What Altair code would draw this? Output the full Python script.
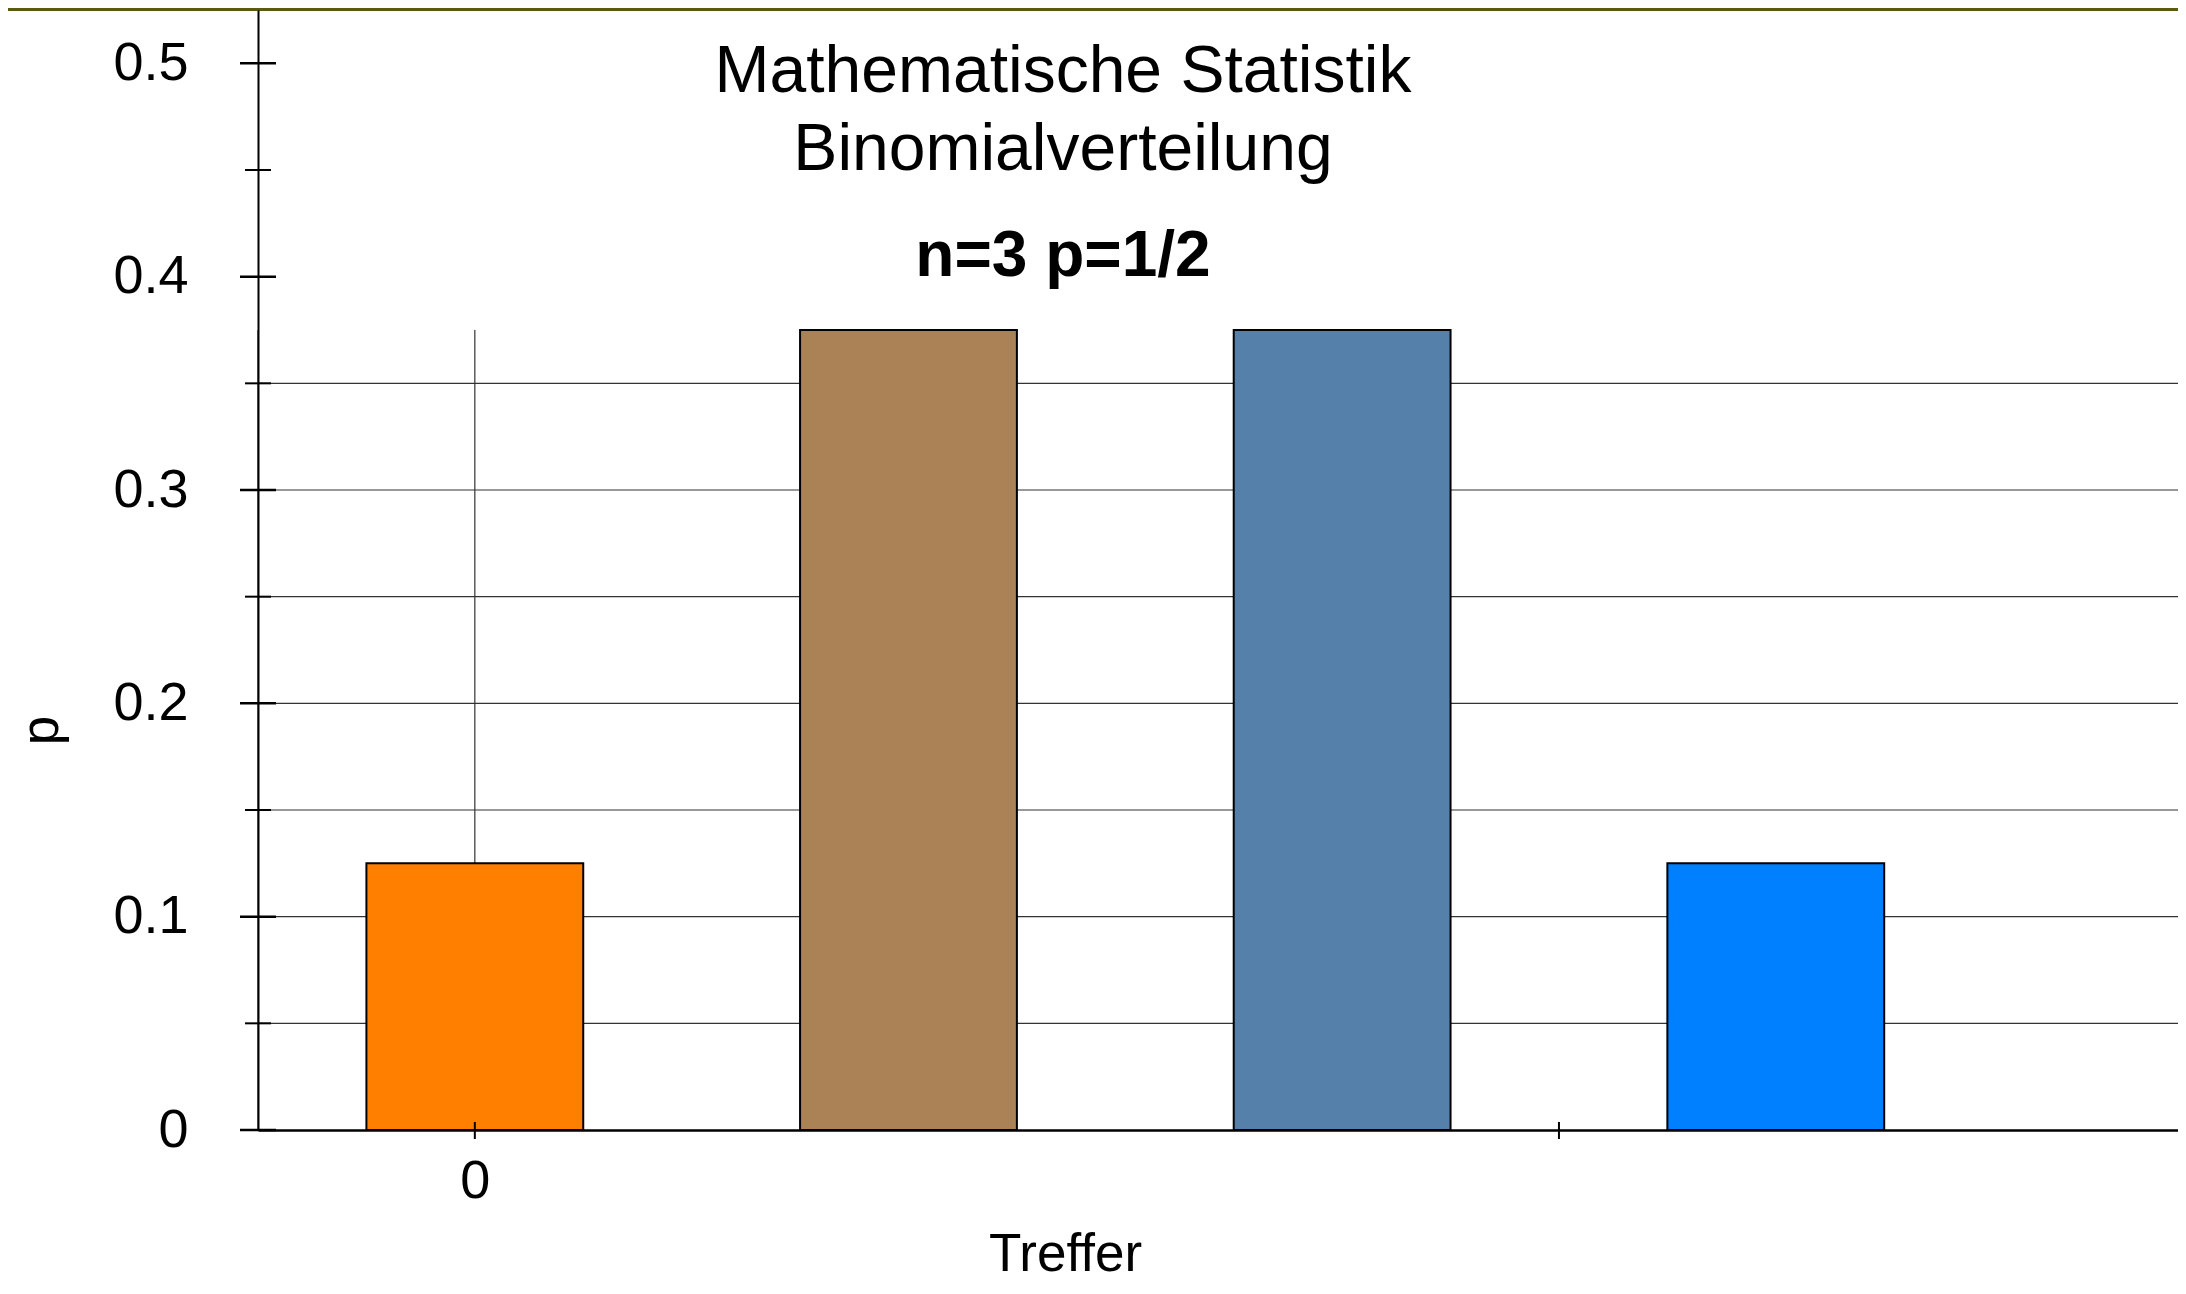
import altair as alt
import pandas as pd

# ---- data -------------------------------------------------------------
treffer = [0, 1, 2, 3]
wahrscheinlichkeit = [0.125, 0.375, 0.375, 0.125]
farben = ["#FF8000", "#AA8255", "#5580AA", "#0080FF"]
bar_halbbreite = 0.25

y_major = [0.0, 0.1, 0.2, 0.3, 0.4, 0.5]
y_minor = [0.05, 0.15, 0.25, 0.35, 0.45]
grid_y = [0.05, 0.1, 0.15, 0.2, 0.25, 0.3, 0.35]
grid_x = [-0.5, 0.0]
grid_x_top = 0.375
x_ticks = [0.0, 2.5]
x_labels = [0.0]

x_domain = [-0.5, 3.9275]
y_domain = [0.0, 0.525]

titel_zeilen = ["Mathematische Statistik", "Binomialverteilung"]
untertitel = "n=3 p=1/2"
x_titel = "Treffer"
y_titel = "p"

FONT = "Liberation Sans"
W, H = 1920, 1120

xs = alt.Scale(domain=x_domain, nice=False, zero=False)
ys = alt.Scale(domain=y_domain, nice=False, zero=True)

bars_df = pd.DataFrame({"k": treffer, "p": wahrscheinlichkeit})
bars_df["lo"] = bars_df["k"] - bar_halbbreite
bars_df["hi"] = bars_df["k"] + bar_halbbreite
bars_df["base"] = 0.0
bars_df["k"] = bars_df["k"].astype(str)

x_axis = alt.Axis(
    values=x_labels, format="~g", ticks=False, grid=False,
    domainColor="black", domainWidth=2.5, labelFont=FONT, labelFontSize=54,
    labelColor="black", labelPadding=67, labelBaseline="alphabetic",
    labelFlush=False, title=x_titel, titleFont=FONT, titleFontSize=53,
    titleFontWeight="normal", titleColor="black", titleX=807, titleY=140,
    titleBaseline="alphabetic", titleAlign="center", zindex=1,
)
y_axis = alt.Axis(
    values=y_major, format="~g", ticks=False, grid=False,
    domainColor="black", domainWidth=2, labelFont=FONT, labelFontSize=54,
    labelColor="black", labelPadding=70, labelBaseline="middle",
    labelOverlap=False, title=y_titel, titleFont=FONT, titleFontSize=53,
    titleFontWeight="normal", titleColor="black", titleAngle=270,
    titleX=-201, titleY=720, titleBaseline="alphabetic", titleAlign="center",
    zindex=1,
)

GRID = "#333333"

# horizontal grid lines
hgrid = alt.Chart(pd.DataFrame({"y": grid_y, "x0": x_domain[0], "x1": x_domain[1]})).mark_rule(
    color=GRID, strokeWidth=1.2
).encode(
    y=alt.Y("y:Q", scale=ys, axis=y_axis),
    x=alt.X("x0:Q", scale=xs, axis=x_axis),
    x2="x1:Q",
)

# vertical grid lines (only up to the highest bar)
vgrid = alt.Chart(pd.DataFrame({"x": grid_x, "y0": 0.0, "y1": grid_x_top})).mark_rule(
    color=GRID, strokeWidth=1.2
).encode(
    x=alt.X("x:Q", scale=xs, axis=x_axis),
    y=alt.Y("y0:Q", scale=ys, axis=y_axis),
    y2="y1:Q",
)

bars = alt.Chart(bars_df).mark_bar(stroke="black", strokeWidth=2, opacity=1).encode(
    x=alt.X("lo:Q", scale=xs, axis=x_axis),
    x2="hi:Q",
    y=alt.Y("p:Q", scale=ys, axis=y_axis),
    y2="base:Q",
    color=alt.Color("k:N", scale=alt.Scale(domain=[str(t) for t in treffer], range=farben), legend=None),
)

# crossing ticks on the y axis
ymaj = alt.Chart(pd.DataFrame({"y": y_major, "x": x_domain[0]})).mark_rule(
    color="black", strokeWidth=2.5, xOffset=-18, x2Offset=18
).encode(
    y=alt.Y("y:Q", scale=ys, axis=y_axis),
    x=alt.X("x:Q", scale=xs, axis=x_axis),
    x2="x:Q",
)
ymin = alt.Chart(pd.DataFrame({"y": y_minor, "x": x_domain[0]})).mark_rule(
    color="black", strokeWidth=2, xOffset=-13, x2Offset=13
).encode(
    y=alt.Y("y:Q", scale=ys, axis=y_axis),
    x=alt.X("x:Q", scale=xs, axis=x_axis),
    x2="x:Q",
)
# crossing ticks on the x axis
xt = alt.Chart(pd.DataFrame({"x": x_ticks, "y": 0.0})).mark_rule(
    color="black", strokeWidth=2, yOffset=-8, y2Offset=9
).encode(
    x=alt.X("x:Q", scale=xs, axis=x_axis),
    y=alt.Y("y:Q", scale=ys, axis=y_axis),
    y2="y:Q",
)

# title block inside the plot
t1 = alt.Chart(pd.DataFrame({"t": [titel_zeilen[0]]})).mark_text(
    font=FONT, fontSize=66, color="black", align="center", baseline="alphabetic"
).encode(text="t:N", x=alt.value(805), y=alt.value(82))
t2 = alt.Chart(pd.DataFrame({"t": [titel_zeilen[1]]})).mark_text(
    font=FONT, fontSize=66, color="black", align="center", baseline="alphabetic"
).encode(text="t:N", x=alt.value(805), y=alt.value(160))
t3 = alt.Chart(pd.DataFrame({"t": [untertitel]})).mark_text(
    font=FONT, fontSize=64, fontWeight="bold", color="black", align="center", baseline="alphabetic"
).encode(text="t:N", x=alt.value(805), y=alt.value(266))

# decorative band at the top edge
band = alt.Chart(pd.DataFrame({"d": [0]})).mark_rect(color="#5A5A12").encode(
    x=alt.value(-250), x2=alt.value(W), y=alt.value(-2), y2=alt.value(1)
)

chart = alt.layer(hgrid, vgrid, bars, ymaj, ymin, xt, t1, t2, t3, band).properties(
    width=W, height=H,
    autosize=alt.AutoSizeParams(type="none"),
    padding={"left": 250, "top": 2, "right": 0, "bottom": 151},
    background="white",
).configure_view(stroke=None)

chart.save("out.html", embed_options={"renderer": "svg", "actions": False})
